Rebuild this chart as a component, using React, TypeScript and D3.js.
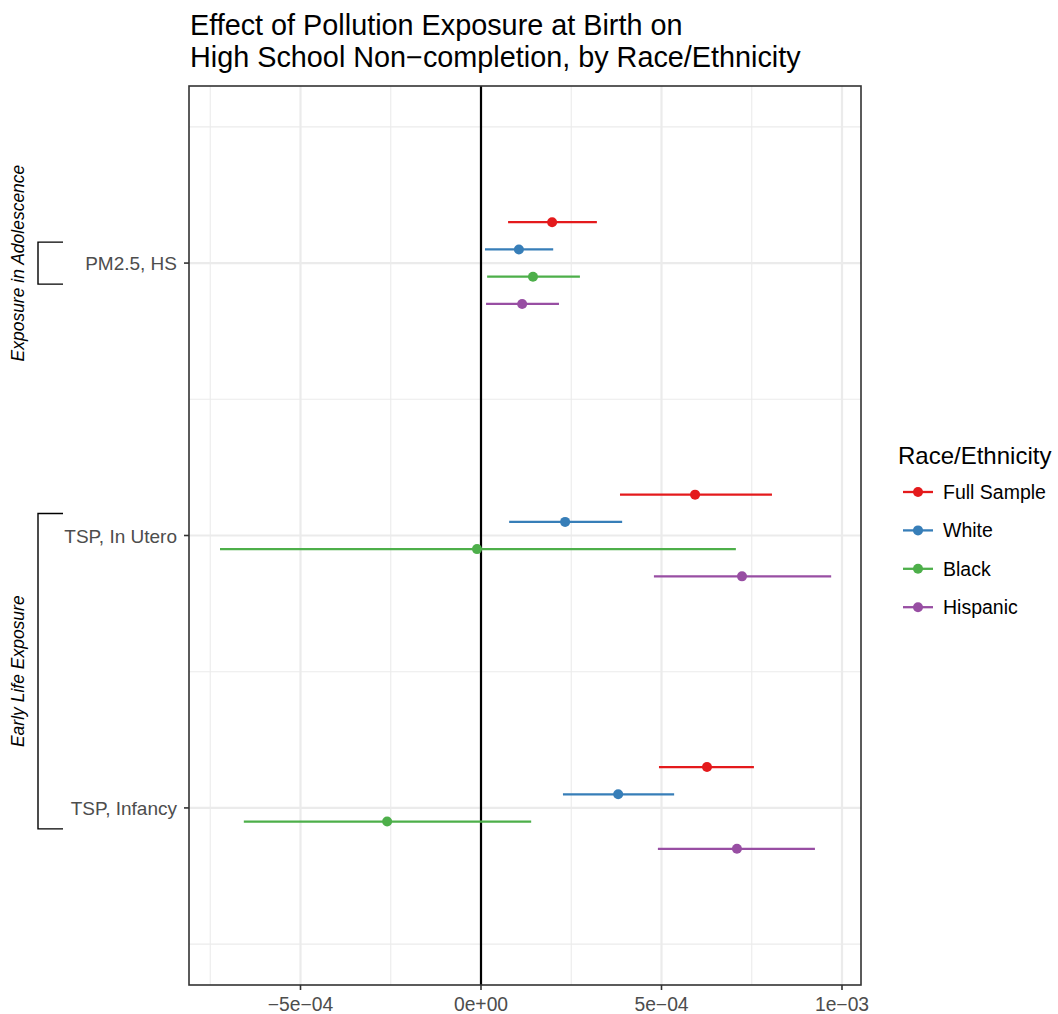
import React from "react";
import * as d3 from "d3";

const categories = ["PM2.5, HS", "TSP, In Utero", "TSP, Infancy"];
const groups = ["Full Sample", "White", "Black", "Hispanic"];
const colors = ["#E41A1C", "#377EB8", "#4DAF4A", "#984EA3"];

// estimates[group][category]
const fullEst = [1.97e-4, 5.93e-4, 6.26e-4];
const fullLo = [0.75e-4, 3.85e-4, 4.93e-4];
const fullHi = [3.21e-4, 8.06e-4, 7.56e-4];

const whiteEst = [1.05e-4, 2.33e-4, 3.8e-4];
const whiteLo = [0.11e-4, 0.78e-4, 2.27e-4];
const whiteHi = [2.0e-4, 3.91e-4, 5.35e-4];

const blackEst = [1.44e-4, -0.11e-4, -2.6e-4];
const blackLo = [0.17e-4, -7.23e-4, -6.57e-4];
const blackHi = [2.74e-4, 7.06e-4, 1.39e-4];

const hispEst = [1.14e-4, 7.23e-4, 7.09e-4];
const hispLo = [0.14e-4, 4.79e-4, 4.9e-4];
const hispHi = [2.16e-4, 9.7e-4, 9.25e-4];

const xTicks = [-5e-4, 0, 5e-4, 1e-3];
const xTickLabels = ["\u22125e\u221204", "0e+00", "5e\u221204", "1e\u221203"];
const xMinor = [-7.5e-4, -2.5e-4, 2.5e-4, 7.5e-4];

const titleLines = [
  "Effect of Pollution Exposure at Birth on",
  "High School Non\u2212completion, by Race/Ethnicity",
];
const bracketGroups = [
  { label: "Exposure in Adolescence", from: 0, to: 0 },
  { label: "Early Life Exposure", from: 1, to: 2 },
];
const legendTitle = "Race/Ethnicity";

const W = 1058;
const H = 1014;
const left = 189;
const right = 861;
const top = 86;
const bottom = 985;
const FONT = "'Liberation Sans', Arial, Helvetica, sans-serif";

export default function App() {
  const x = d3.scaleLinear().domain([(left - 481) / 361000, (right - 481) / 361000]).range([left, right]);

  const y = d3.scalePoint<string>().domain(categories).range([top, bottom]).padding(0.65);
  const step = y.step();
  const yMinor = [
    (y(categories[0]) as number) - step / 2,
    ...categories.map((c) => (y(c) as number) + step / 2),
  ];

  const series = [
    { est: fullEst, lo: fullLo, hi: fullHi },
    { est: whiteEst, lo: whiteLo, hi: whiteHi },
    { est: blackEst, lo: blackLo, hi: blackHi },
    { est: hispEst, lo: hispLo, hi: hispHi },
  ];
  const dodge = (gi: number) => (gi - (groups.length - 1) / 2) * 0.1 * step;

  const gridColor = "#EBEBEB";

  return (
    <div style={{ position: "absolute", left: 0, top: 0 }}>
      <svg width={W} height={H} style={{ display: "block", background: "#fff" }}>
        {/* title */}
        {titleLines.map((t, i) => (
          <text key={i} x={190} y={35 + i * 31.5} fontFamily={FONT} fontSize={28.8} fill="#000">
            {t}
          </text>
        ))}
        {/* panel background */}
        <rect x={left} y={top} width={right - left} height={bottom - top} fill="#fff" />
        {/* minor grid */}
        {xMinor.map((v, i) => (
          <line key={"xm" + i} x1={x(v)} x2={x(v)} y1={top} y2={bottom} stroke={gridColor} strokeWidth={1.1} />
        ))}
        {yMinor.map((v, i) => (
          <line key={"ym" + i} x1={left} x2={right} y1={v} y2={v} stroke={gridColor} strokeWidth={1.1} />
        ))}
        {/* major grid */}
        {xTicks.map((v, i) => (
          <line key={"xM" + i} x1={x(v)} x2={x(v)} y1={top} y2={bottom} stroke={gridColor} strokeWidth={2.2} />
        ))}
        {categories.map((c, i) => (
          <line key={"yM" + i} x1={left} x2={right} y1={y(c)} y2={y(c)} stroke={gridColor} strokeWidth={2.2} />
        ))}
        {/* zero line */}
        <line x1={x(0)} x2={x(0)} y1={top} y2={bottom} stroke="#000" strokeWidth={2.2} />
        {/* error bars and points */}
        {series.map((s, gi) =>
          categories.map((c, ci) => {
            const yy = (y(c) as number) + dodge(gi);
            return (
              <g key={gi + "-" + ci}>
                <line x1={x(s.lo[ci])} x2={x(s.hi[ci])} y1={yy} y2={yy} stroke={colors[gi]} strokeWidth={2.3} />
                <circle cx={x(s.est[ci])} cy={yy} r={5} fill={colors[gi]} />
              </g>
            );
          })
        )}
        {/* panel border */}
        <rect x={left} y={top} width={right - left} height={bottom - top} fill="none" stroke="#333" strokeWidth={1.6} />
        {/* x axis ticks */}
        {xTicks.map((v, i) => (
          <g key={"xt" + i}>
            <line x1={x(v)} x2={x(v)} y1={bottom} y2={bottom + 5} stroke="#333" strokeWidth={1.6} />
            <text x={x(v)} y={bottom + 26} textAnchor="middle" fontFamily={FONT} fontSize={19.3} fill="#4D4D4D">
              {xTickLabels[i]}
            </text>
          </g>
        ))}
        {/* y axis ticks */}
        {categories.map((c, i) => (
          <g key={"yt" + i}>
            <line x1={left - 5} x2={left} y1={y(c)} y2={y(c)} stroke="#333" strokeWidth={1.6} />
            <text x={left - 12} y={(y(c) as number) + 7} textAnchor="end" fontFamily={FONT} fontSize={19} fill="#4D4D4D">
              {c}
            </text>
          </g>
        ))}
        {/* group brackets */}
        {bracketGroups.map((b, i) => {
          const y0 = (y(categories[b.from]) as number) - (b.from === b.to ? 21 : 22);
          const y1 = (y(categories[b.to]) as number) + 21;
          const cy = (y0 + y1) / 2;
          return (
            <g key={"br" + i}>
              <path d={`M63,${y0}H38V${y1}H63`} fill="none" stroke="#000" strokeWidth={1.4} />
              <text
                transform={`translate(24,${cy}) rotate(-90)`}
                textAnchor="middle"
                fontFamily={FONT}
                fontStyle="italic"
                fontSize={17.5}
                fill="#000"
              >
                {b.label}
              </text>
            </g>
          );
        })}
        {/* legend */}
        <text x={898} y={464} fontFamily={FONT} fontSize={24} fill="#000">
          {legendTitle}
        </text>
        {groups.map((g, i) => {
          const ly = 492 + i * 38.4;
          return (
            <g key={"lg" + i}>
              <line x1={903} x2={933} y1={ly} y2={ly} stroke={colors[i]} strokeWidth={2.3} />
              <circle cx={918} cy={ly} r={5} fill={colors[i]} />
              <text x={943} y={ly + 7} fontFamily={FONT} fontSize={19.5} fill="#000">
                {g}
              </text>
            </g>
          );
        })}
      </svg>
    </div>
  );
}
